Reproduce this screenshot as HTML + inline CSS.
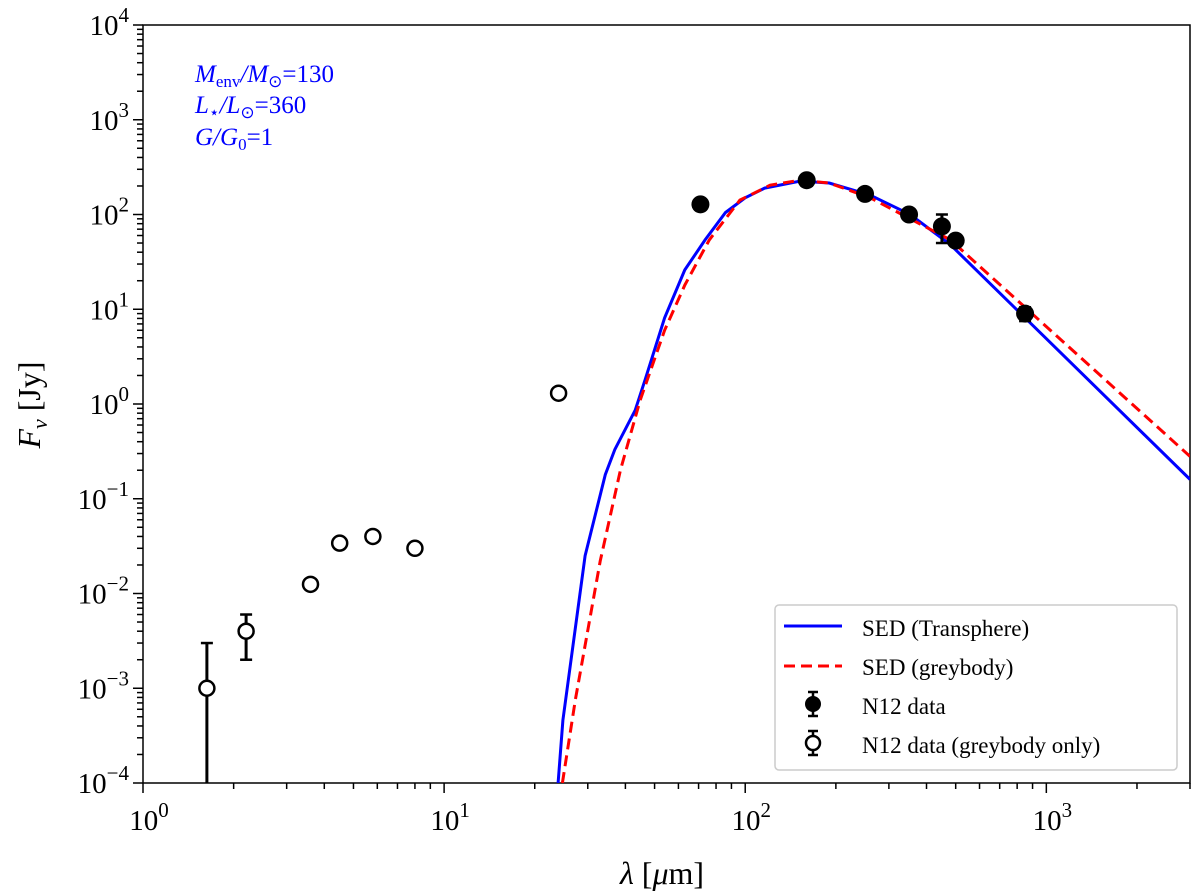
<!DOCTYPE html>
<html><head><meta charset="utf-8"><style>
body{margin:0;background:#fff}
svg{display:block;font-family:"Liberation Serif",serif}
</style></head><body>
<svg id="chart" width="1200" height="895" viewBox="0 0 1200 895" xmlns="http://www.w3.org/2000/svg">
<g id="axes"></g>
<g id="series"></g>
<g fill="#0000ff" font-size="25" font-style="italic">
<text x="195" y="82">M<tspan font-size="17" font-style="normal" dy="5">env</tspan><tspan dy="-5">/M</tspan><tspan font-size="17" font-style="normal" dy="5">⊙</tspan><tspan dy="-5" font-style="normal">=130</tspan></text>
<text x="195" y="113">L<tspan font-size="17" font-style="normal" dy="5">⋆</tspan><tspan dy="-5">/L</tspan><tspan font-size="17" font-style="normal" dy="5">⊙</tspan><tspan dy="-5" font-style="normal">=360</tspan></text>
<text x="195" y="145">G/G<tspan font-size="17" font-style="normal" dy="5">0</tspan><tspan dy="-5" font-style="normal">=1</tspan></text>
</g>
<text x="0" y="0" transform="translate(40,405) rotate(-90)" text-anchor="middle" font-size="32"><tspan font-style="italic">F</tspan><tspan font-style="italic" font-size="22" dy="7">ν</tspan><tspan dy="-7">  [Jy]</tspan></text>
<text x="662" y="884" text-anchor="middle" font-size="32"><tspan font-style="italic">λ</tspan> [<tspan font-style="italic">μ</tspan>m]</text>
<g>
<rect x="775" y="605" width="402" height="165" rx="4" fill="#fff" stroke="#ccc" stroke-width="1.5"/>
<line x1="784" y1="626" x2="842" y2="626" stroke="#0000ff" stroke-width="3"/>
<text x="862" y="636" font-size="23">SED (Transphere)</text>
<line x1="784" y1="666" x2="842" y2="666" stroke="#ff0000" stroke-width="3" stroke-dasharray="11,6"/>
<text x="862" y="675" font-size="23">SED (greybody)</text>
<line x1="813" y1="692" x2="813" y2="716" stroke="#000" stroke-width="2.5"/><line x1="808" y1="692" x2="818" y2="692" stroke="#000" stroke-width="2.5"/><line x1="808" y1="716" x2="818" y2="716" stroke="#000" stroke-width="2.5"/>
<circle cx="813" cy="704" r="8" fill="#000"/>
<text x="862" y="714" font-size="23">N12 data</text>
<line x1="813" y1="731" x2="813" y2="755" stroke="#000" stroke-width="2.5"/><line x1="808" y1="731" x2="818" y2="731" stroke="#000" stroke-width="2.5"/><line x1="808" y1="755" x2="818" y2="755" stroke="#000" stroke-width="2.5"/>
<circle cx="813" cy="743" r="7" fill="#fff" stroke="#000" stroke-width="2.5"/>
<text x="862" y="753" font-size="23">N12 data (greybody only)</text>
</g>
</svg>
<script>
const transLam=[23.9,24.8,29.4,34.3,36.9,43.1,46.5,54,63,73.6,86,100,116,152,190,260,353,480,3000];
const transF=[1e-4,4.6e-4,0.025,0.18,0.33,0.86,1.8,8.1,26,54,105,150,190,225,215,160,100,48,0.16];
const greyLam=[24.7,27.3,33,38.5,44.8,54,63,76,96,121,152,190,260,480,3000];
const greyF=[1e-4,7.6e-4,0.022,0.2,1.1,6,18,54,142,204,230,215,150,54,0.28];
const filledLam=[71,160,250,350,450,500,850];
const filledF=[128,230,165,100,75,53,9];
const filledLo=[128,230,165,100,50,53,7.5];
const filledHi=[128,230,165,100,100,53,10.5];
const openLam=[1.63,2.2,3.6,4.5,5.8,8,24];
const openF=[1e-3,4e-3,0.0125,0.034,0.04,0.03,1.3];
const openLo=[1e-5,2e-3,0.0125,0.034,0.04,0.03,1.3];
const openHi=[3e-3,6e-3,0.0125,0.034,0.04,0.03,1.3];
const xTickExp=[0,1,2,3];
const yTickExp=[-4,-3,-2,-1,0,1,2,3,4];

const L=143,R=1190,T=25,B=783,XMIN=0,XMAX=Math.log10(3000),YMIN=-4,YMAX=4;
const NS='http://www.w3.org/2000/svg';
function xs(v){return L+(Math.log10(v)-XMIN)/(XMAX-XMIN)*(R-L);}
function ys(v){return B-(Math.log10(v)-YMIN)/(YMAX-YMIN)*(B-T);}
function mk(tag,attrs,parent){const e=document.createElementNS(NS,tag);for(const k in attrs)e.setAttribute(k,attrs[k]);parent.appendChild(e);return e;}
const axes=document.getElementById('axes'),series=document.getElementById('series');
const defs=mk('defs',{},series);const cp=mk('clipPath',{id:'clip'},defs);mk('rect',{x:L,y:T,width:R-L,height:B-T},cp);
const frame=mk('rect',{x:L,y:T,width:R-L,height:B-T,fill:'none',stroke:'#000','stroke-width':1.5},axes);


for(let d=0;d<=3;d++){for(let m=1;m<10;m++){const v=m*Math.pow(10,d);if(v>3000)break;const x=xs(v);
 mk('line',{x1:x,y1:B,x2:x,y2:B+(m==1?10:6),stroke:'#000','stroke-width':1.5},axes);}}
xTickExp.forEach(e=>{const t=mk('text',{x:xs(Math.pow(10,e))+6,y:B+47,'text-anchor':'middle','font-size':29},axes);
 
 
 t.innerHTML='10<tspan font-size="21" dy="-13">'+e+'</tspan>';});
for(let d=-4;d<4;d++){for(let m=1;m<10;m++){const v=m*Math.pow(10,d);const y=ys(v);
 mk('line',{x1:L,y1:y,x2:L-(m==1?10:6),y2:y,stroke:'#000','stroke-width':1.5},axes);}}
mk('line',{x1:L,y1:T,x2:L-10,y2:T,stroke:'#000','stroke-width':1.5},axes);
yTickExp.forEach(e=>{const t=mk('text',{x:L-14,y:ys(Math.pow(10,e))+10,'text-anchor':'end','font-size':29},axes);
 
 
 t.innerHTML='10<tspan font-size="21" dy="-13">'+(e<0?'−'+(-e):e)+'</tspan>';});
const g=mk('g',{'clip-path':'url(#clip)'},series);
function path(lam,f){return lam.map((l,i)=>(i?'L':'M')+xs(l).toFixed(1)+','+ys(f[i]).toFixed(1)).join('');}
const pb=mk('path',{d:path(transLam,transF),fill:'none',stroke:'#0000ff','stroke-width':3},g);


const pr=mk('path',{d:path(greyLam,greyF),fill:'none',stroke:'#ff0000','stroke-width':3,'stroke-dasharray':'11,6'},g);


function errbar(l,lo,hi){if(lo==hi)return;const x=xs(l),y1=ys(lo),y2=ys(hi);
 mk('line',{x1:x,y1:Math.min(y1,B),x2:x,y2:y2,stroke:'#000','stroke-width':3},g);
 mk('line',{x1:x-6,y1:y2,x2:x+6,y2:y2,stroke:'#000','stroke-width':2.5},g);
 if(y1<B)mk('line',{x1:x-6,y1:y1,x2:x+6,y2:y1,stroke:'#000','stroke-width':2.5},g);}
openLam.forEach((l,i)=>{errbar(l,openLo[i],openHi[i]);
 const c=mk('circle',{cx:xs(l),cy:ys(openF[i]),r:7.5,fill:'#fff',stroke:'#000','stroke-width':2.5},g);
 
 });
filledLam.forEach((l,i)=>{errbar(l,filledLo[i],filledHi[i]);
 const c=mk('circle',{cx:xs(l),cy:ys(filledF[i]),r:9,fill:'#000'},g);
 
 });
</script>
</body></html>
